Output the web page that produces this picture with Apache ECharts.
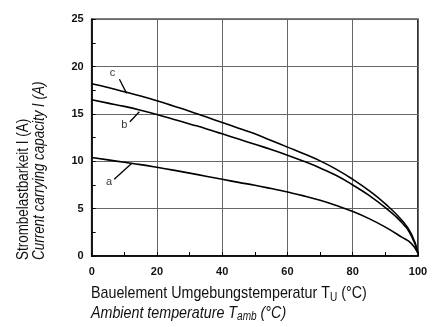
<!DOCTYPE html>
<html>
<head>
<meta charset="utf-8">
<script src="https://cdn.jsdelivr.net/npm/echarts@6/dist/echarts.min.js"></script>
<style>
  html, body { margin: 0; padding: 0; background: #fff; }
  #chart { width: 434px; height: 327px; }
</style>
</head>
<body>
<div id="chart"></div>
<script>
// Ambient temperature (°C) sample points
const temps = [0, 5, 10, 15, 20, 25, 30, 35, 40, 45, 50, 55, 60, 65, 70, 75, 80, 85, 90, 95, 98, 100];
// Current carrying capacity (A) for the three variants
const curveC = [18.2, 17.8, 17.35, 16.9, 16.4, 15.85, 15.3, 14.7, 14.1, 13.5, 12.9, 12.2, 11.5, 10.8, 10.05, 9.15, 8.1, 6.9, 5.5, 3.8, 2.3, 0.3];
const curveB = [16.5, 16.15, 15.8, 15.4, 14.95, 14.45, 13.95, 13.45, 12.9, 12.35, 11.8, 11.25, 10.65, 10.0, 9.3, 8.5, 7.5, 6.4, 5.1, 3.55, 2.1, 0.3];
const curveA = [10.4, 10.15, 9.9, 9.65, 9.37, 9.07, 8.75, 8.43, 8.1, 7.78, 7.47, 7.12, 6.75, 6.35, 5.88, 5.33, 4.7, 3.95, 3.05, 2.0, 1.3, 0.3];
// Curve tags with their leader lines (data coordinates: [from, to], tag position)
const tags = [
  { name: 'c', line: [[8.5, 18.66], [10.7, 17.18]], pos: [6.4, 19.3] },
  { name: 'b', line: [[11.7, 14.18], [14.6, 15.24]], pos: [10.0, 13.8] },
  { name: 'a', line: [[6.9, 8.10], [12.3, 9.79]], pos: [5.3, 7.8] }
];
const xTicks = [0, 20, 40, 60, 80, 100];
const yTicks = [0, 5, 10, 15, 20, 25];

const TITLE_FONT = '"Liberation Sans", Arial, sans-serif';
const NARROW = 0.84; // horizontal squeeze for the condensed title lettering
const zip = ys => temps.map((t, i) => [t, ys[i]]);

const curveSeries = [curveC, curveB, curveA].map(ys => ({
  type: 'line',
  data: zip(ys),
  smooth: 0.5,
  symbol: 'none',
  lineStyle: { color: '#000', width: 1.6 },
  z: 5
}));

const leaderSeries = tags.map(t => ({
  type: 'line',
  data: t.line,
  symbol: 'none',
  lineStyle: { color: '#000', width: 1.3 },
  z: 6
}));

const tagSeries = {
  type: 'scatter',
  symbolSize: 0,
  data: tags.map(t => ({ value: t.pos, name: t.name })),
  label: {
    show: true,
    formatter: p => p.name,
    position: 'inside',
    color: '#000',
    fontFamily: '"Liberation Sans", Arial, sans-serif',
    fontSize: 11
  },
  z: 7
};

const chart = echarts.init(document.getElementById('chart'));
chart.setOption({
  animation: false,
  backgroundColor: '#fff',
  grid: { left: 91.7, right: 16, top: 19.3, bottom: 71, show: true, borderColor: '#000', borderWidth: 1.6, backgroundColor: 'transparent' },
  xAxis: {
    type: 'value', min: 0, max: 100, interval: 20,
    axisLine: { show: true, lineStyle: { color: '#000', width: 1.6 } },
    axisTick: { show: true, inside: true, length: 4, lineStyle: { color: '#000' } },
    minorTick: { show: true, splitNumber: 2, length: 4, lineStyle: { color: '#000' } },
    splitLine: { show: true, lineStyle: { color: '#666', width: 1 } },
    axisLabel: {
      formatter: v => xTicks.includes(v) ? String(v) : '',
      color: '#111', fontFamily: '"Liberation Sans", Arial, sans-serif', fontSize: 11, fontWeight: 'bold', margin: 10
    }
  },
  yAxis: {
    type: 'value', min: 0, max: 25, interval: 5,
    axisLine: { show: true, lineStyle: { color: '#000', width: 1.6 } },
    axisTick: { show: true, inside: true, length: 4, lineStyle: { color: '#000' } },
    minorTick: { show: true, splitNumber: 2, length: 4, lineStyle: { color: '#000' } },
    splitLine: { show: true, lineStyle: { color: '#666', width: 1 } },
    axisLabel: {
      formatter: v => yTicks.includes(v) ? String(v) : '',
      color: '#111', fontFamily: '"Liberation Sans", Arial, sans-serif', fontSize: 11, fontWeight: 'bold', margin: 8
    }
  },
  series: [...curveSeries, ...leaderSeries, tagSeries],
  graphic: [
    {
      type: 'text', x: 24, y: 260, rotation: Math.PI / 2, scaleX: NARROW,
      style: { text: 'Strombelastbarkeit I (A)', font: '16px ' + TITLE_FONT, fill: '#111', textAlign: 'left', textVerticalAlign: 'middle' }
    },
    {
      type: 'text', x: 40, y: 260, rotation: Math.PI / 2, scaleX: NARROW,
      style: { text: 'Current carrying capacity I (A)', font: 'italic 16px ' + TITLE_FONT, fill: '#111', textAlign: 'left', textVerticalAlign: 'middle' }
    },
    {
      type: 'text', x: 91, y: 293.5, scaleX: NARROW,
      style: {
        text: 'Bauelement Umgebungstemperatur T{s|U} (°C)',
        rich: { s: { fontSize: 12, fontFamily: TITLE_FONT, padding: [8, 0, 0, 0], fill: '#111' } },
        font: '17px ' + TITLE_FONT, fill: '#111', textVerticalAlign: 'middle'
      }
    },
    {
      type: 'text', x: 91, y: 313, scaleX: NARROW,
      style: {
        text: 'Ambient temperature T{s|amb} (°C)',
        rich: { s: { fontSize: 12, fontStyle: 'italic', fontFamily: TITLE_FONT, padding: [8, 0, 0, 0], fill: '#111' } },
        font: 'italic 17px ' + TITLE_FONT, fill: '#111', textVerticalAlign: 'middle'
      }
    }
  ]
});
</script>
</body>
</html>
